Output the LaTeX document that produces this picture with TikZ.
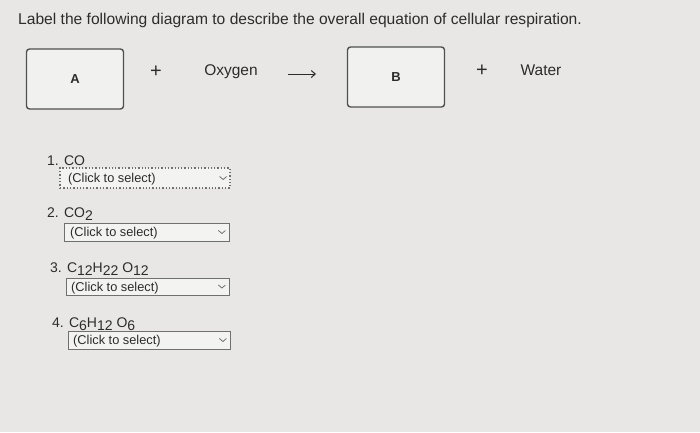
\documentclass[tikz,border=0pt]{standalone}
\usepackage{fontspec}
\setmainfont{Liberation Sans}
\usetikzlibrary{arrows.meta}
\definecolor{bg}{HTML}{E8E7E5}
\definecolor{ink}{HTML}{2C2C2C}
\definecolor{boxline}{HTML}{505050}
\definecolor{selline}{HTML}{707070}
\begin{document}
\begin{tikzpicture}[x=1pt,y=-1pt,
  txt/.style={inner sep=0pt,text=ink,anchor=base west},
  ansbox/.style={draw=boxline,line width=1.4pt,rounded corners=3pt,fill=bg!60!white},
  selbox/.style={draw=selline,line width=0.9pt,fill=bg!50!white},
  focusbox/.style={draw=selline,line width=1.3pt,dotted,fill=bg!50!white},
  seltxt/.style={inner sep=0pt,text=ink,anchor=base west,font=\fontsize{12.8}{14}\selectfont},
  lbl/.style={inner sep=0pt,text=ink,anchor=base west,font=\fontsize{14}{16}\selectfont},
  chev/.style={draw=selline,line width=0.8pt},
  plus/.style={inner sep=0pt,text=ink,font=\fontsize{20}{22}\selectfont}]
\useasboundingbox[fill=bg] (0,0) rectangle (700,432);
% title
\node[txt,font=\fontsize{15.6}{17}\selectfont] (title) at (18,24) {Label the following diagram to describe the overall equation of cellular respiration.};
% equation
\node[ansbox,minimum width=97pt,minimum height=60pt] (A) at (75,79) {};
\node[inner sep=0pt,text=ink,font=\fontsize{13}{15}\selectfont\bfseries] (Alab) at (A.center) {A};
\node[plus] (plus1) at (156,72) {+};
\node[inner sep=0pt,text=ink,font=\fontsize{15.5}{17}\selectfont] (oxy) at (231,72) {Oxygen};
\coordinate (a1) at (288,74);
\coordinate (a2) at (316,74);
\draw[ink,line width=1pt,-{Straight Barb[length=4pt,width=7pt]}] (a1) -- (a2);
\node[ansbox,minimum width=97pt,minimum height=60pt] (B) at (396,77) {};
\node[inner sep=0pt,text=ink,font=\fontsize{13}{15}\selectfont\bfseries] (Blab) at (B.center) {B};
\node[plus] (plus2) at (482,71) {+};
\node[inner sep=0pt,text=ink,font=\fontsize{15.5}{17}\selectfont] (water) at (541,70) {Water};
% options
\node[lbl] (l1) at (47,165) {1. CO};
\draw[selline,line width=1pt,dotted] (61,168) -- (86,168);
\node[focusbox,minimum width=170pt,minimum height=20pt,inner sep=0pt] (s1) at (145,178) {};
\node[seltxt] (t1) at (68,182.5) {(Click to select)};
\draw[chev] ([xshift=-4pt,yshift=1.5pt]s1.east |- s1.center) ++(-7,0) -- ++(3.5,3) -- ++(3.5,-3);

\node[lbl] (l2) at (47,217) {2. CO\raisebox{-3pt}{2}};
\node[selbox,minimum width=165pt,minimum height=18pt,inner sep=0pt] (s2) at (146.5,232) {};
\node[seltxt] (t2) at (70,236.5) {(Click to select)};
\draw[chev] ([xshift=-4pt,yshift=1.5pt]s2.east |- s2.center) ++(-7,0) -- ++(3.5,3) -- ++(3.5,-3);

\node[lbl] (l3) at (50,272) {3. C\raisebox{-3pt}{12}H\raisebox{-3pt}{22} O\raisebox{-3pt}{12}};
\node[selbox,minimum width=163pt,minimum height=17pt,inner sep=0pt] (s3) at (147.5,286.5) {};
\node[seltxt] (t3) at (71,291) {(Click to select)};
\draw[chev] ([xshift=-4pt,yshift=1.5pt]s3.east |- s3.center) ++(-7,0) -- ++(3.5,3) -- ++(3.5,-3);

\node[lbl] (l4) at (52,327) {4. C\raisebox{-3pt}{6}H\raisebox{-3pt}{12} O\raisebox{-3pt}{6}};
\node[selbox,minimum width=162pt,minimum height=18pt,inner sep=0pt] (s4) at (149,340) {};
\node[seltxt] (t4) at (73,344.5) {(Click to select)};
\draw[chev] ([xshift=-4pt,yshift=1.5pt]s4.east |- s4.center) ++(-7,0) -- ++(3.5,3) -- ++(3.5,-3);
\end{tikzpicture}
\end{document}
